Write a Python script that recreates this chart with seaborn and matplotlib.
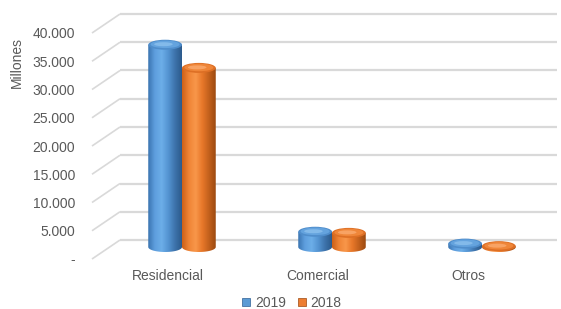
import numpy as np
import pandas as pd
import matplotlib
matplotlib.use("Agg")
import matplotlib.pyplot as plt
import seaborn as sns
from matplotlib.patches import Polygon, Ellipse, Patch
from matplotlib.transforms import ScaledTranslation
from matplotlib.colors import LinearSegmentedColormap

# ---- data ----
categories = ["Residencial", "Comercial", "Otros"]
series = ["2019", "2018"]
values_2019 = [35800, 2700, 600]
values_2018 = [31700, 2500, 150]
y_ticks = [0, 5000, 10000, 15000, 20000, 25000, 30000, 35000, 40000]
y_tick_labels = ["-", "5.000", "10.000", "15.000", "20.000", "25.000", "30.000", "35.000", "40.000"]
y_label = "Millones"

sns.set_theme(style="white")
plt.rcParams["font.family"] = ["Liberation Sans", "DejaVu Sans"]
TXT = "#595959"
GRID = "#d9d9d9"
FS = 10

df = pd.DataFrame({
    "cat": categories * 2,
    "val": values_2019 + values_2018,
    "year": [series[0]] * 3 + [series[1]] * 3,
})

W, H = 561, 309
fig = plt.figure(figsize=(W / 100, H / 100), dpi=100)
ax = fig.add_axes([92 / W, 44 / H, 465 / W, 255 / H])
ax.set_facecolor("none")

blue, orange = "#5b9bd5", "#ed7d31"
sns.barplot(data=df, x="cat", y="val", hue="year", palette=[blue, orange],
            width=0.45, dodge=True, ax=ax, legend=False, zorder=2,
            errorbar=None)

PX = 5000 / 28.25          # data units per pixel
XMIN, XMAX = -0.6, 2.5
YMIN, YMAX = -18 * PX, 237 * PX
FRONT = -12 * PX           # front labels offset
BACK = 7 * PX              # back wall offset
DX = 28 / 150              # depth shift in x
EH = 10 * PX               # ellipse height (data)

# perspective grid
for v in y_ticks:
    ax.plot([XMIN, XMIN + DX], [v + FRONT, v + BACK], color=GRID, lw=1.2,
            zorder=1, clip_on=False, solid_capstyle="butt")
    ax.plot([XMIN + DX, XMAX], [v + BACK, v + BACK], color=GRID, lw=1.6,
            zorder=1, clip_on=False, solid_capstyle="butt")

grads = {
    0: ["#3a74b0", "#5e9ede", "#6caee8", "#5494d2", "#3d73ab", "#2c5a8c"],
    1: ["#cc6018", "#ef8436", "#f8974a", "#e8782a", "#c2601c", "#9c4a10"],
}
caps = {0: ("#4f8dcb", "#64a3de", "#8cc0ee"), 1: ("#dd6f25", "#ef8639", "#fbab70")}

for si, cont in enumerate(ax.containers):
    cmap = LinearSegmentedColormap.from_list(f"g{si}", grads[si])
    grad = cmap(np.linspace(0, 1, 128))[None, :, :]
    for bar in cont:
        x0 = bar.get_x()
        w = bar.get_width()
        h = bar.get_height()
        xc = x0 + w / 2
        t = np.linspace(np.pi, 2 * np.pi, 60)
        pts = [(xc + w / 2 * np.cos(tt), EH / 2 * np.sin(tt)) for tt in t]
        pts += [(x0 + w, h), (x0, h)]
        poly = Polygon(pts, closed=True, transform=ax.transData)
        im = ax.imshow(grad, extent=(x0, x0 + w, -EH / 2, h), aspect="auto",
                       zorder=3, interpolation="bilinear")
        im.set_clip_path(poly)
        bar.set_alpha(0)
        ax.add_patch(Ellipse((xc, h), w, EH, facecolor=caps[si][0],
                             edgecolor="none", zorder=4))
        ax.add_patch(Ellipse((xc, h + EH * 0.04), w * 0.86, EH * 0.75,
                             facecolor=caps[si][1], edgecolor="none", zorder=5))
        ax.add_patch(Ellipse((xc - w * 0.05, h + EH * 0.05), w * 0.55, EH * 0.4,
                             facecolor=caps[si][2], edgecolor="none",
                             zorder=6, alpha=0.8))

ax.set_xlim(XMIN, XMAX)
ax.set_ylim(YMIN, YMAX)
ax.set_yticks([v + FRONT for v in y_ticks])
ax.set_yticklabels(y_tick_labels)
ax.set_xticks(range(len(categories)))
ax.set_xticklabels(categories)
ax.tick_params(axis="y", length=0, pad=12, labelsize=FS, labelcolor=TXT)
ax.tick_params(axis="x", length=0, pad=3, labelsize=FS, labelcolor=TXT)
off = ScaledTranslation(-0.14, 0, fig.dpi_scale_trans)
for lbl in ax.get_xticklabels():
    lbl.set_transform(lbl.get_transform() + off)
ax.set_xlabel("")
ax.set_ylabel("")
for s in ax.spines.values():
    s.set_visible(False)
ax.grid(False)

fig.text(17 / W, 1 - 62 / H, y_label, rotation=90, ha="center", va="center",
         fontsize=FS, color=TXT)

handles = [Patch(facecolor=blue, edgecolor="#2f5f94", lw=0.5),
           Patch(facecolor=orange, edgecolor="#9c4a10", lw=0.5)]
fig.legend(handles, series, loc="center", bbox_to_anchor=(292 / W, 1 - 303 / H),
           ncol=2, frameon=False, fontsize=FS, handlelength=0.55,
           handleheight=0.55, handletextpad=0.35, columnspacing=0.9,
           labelcolor=TXT, borderpad=0)

fig.savefig("out.png", dpi=100, facecolor="white")
